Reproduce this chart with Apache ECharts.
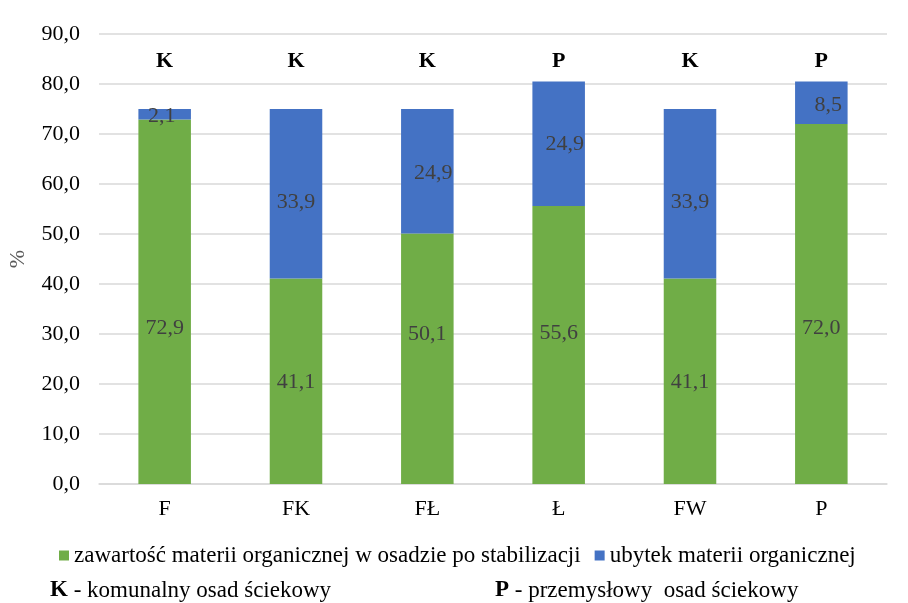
<!DOCTYPE html>
<html>
<head>
<meta charset="utf-8">
<script src="https://cdn.jsdelivr.net/npm/echarts@6/dist/echarts.min.js"></script>
<style>
  html, body { margin: 0; padding: 0; background: #fff; }
  #chart { width: 908px; height: 603px; }
</style>
</head>
<body>
<div id="chart"></div>
<script>
// Sludge samples and their organic matter balance (%)
const categories = ['F', 'FK', 'FŁ', 'Ł', 'FW', 'P'];
const sludgeType = ['K', 'K', 'K', 'P', 'K', 'P'];
const remaining = [72.9, 41.1, 50.1, 55.6, 41.1, 72.0];
const loss = [2.1, 33.9, 24.9, 24.9, 33.9, 8.5];
const yTicks = { min: 0, max: 90, interval: 10 };

// label nudges inside the bars (px)
const remainingLabelShift = [[0, 26], [0, 1], [0, -25], [0, -12], [0, 1], [0, 24]];
const lossLabelShift = [[-3, 2], [0, 8], [6, 2], [6, 0], [0, 8], [7, 2]];

const FONT = '"Liberation Serif", "Times New Roman", serif';
const SIZE = 22;
const fmt = v => v.toFixed(1).replace('.', ',');

const chart = echarts.init(document.getElementById('chart'), null, { renderer: 'canvas' });

const labelBase = {
  show: true,
  position: 'inside',
  color: '#404040',
  fontFamily: FONT,
  fontSize: SIZE,
  formatter: p => fmt(p.value)
};

chart.setOption({
  animation: false,
  textStyle: { fontFamily: FONT },
  grid: { left: 99, right: 21, top: 34, bottom: 119, containLabel: false, outerBoundsMode: 'none' },
  legend: {
    left: 54,
    top: 539,
    icon: 'rect',
    itemWidth: 10,
    itemHeight: 10,
    itemGap: 14,
    textStyle: { fontFamily: FONT, fontSize: 23, color: '#000' },
    data: ['zawartość materii organicznej w osadzie po stabilizacji', 'ubytek materii organicznej']
  },
  xAxis: [
    {
      type: 'category',
      data: categories,
      axisLine: { lineStyle: { color: '#d9d9d9', width: 1.5 } },
      axisTick: { show: false },
      axisLabel: { color: '#000', fontFamily: FONT, fontSize: SIZE, margin: 14 }
    },
    {
      type: 'category',
      position: 'top',
      data: sludgeType,
      axisLine: { show: false },
      axisTick: { show: false },
      axisLabel: { inside: true, margin: 16, color: '#000', fontFamily: FONT, fontSize: SIZE, fontWeight: 'bold' }
    }
  ],
  yAxis: {
    type: 'value',
    min: yTicks.min,
    max: yTicks.max,
    interval: yTicks.interval,
    name: '%',
    nameLocation: 'middle',
    nameGap: 70,
    nameTextStyle: { color: '#595959', fontFamily: FONT, fontSize: SIZE },
    axisLine: { show: false },
    axisTick: { show: false },
    splitLine: { lineStyle: { color: '#d9d9d9', width: 1.5 } },
    axisLabel: { color: '#000', fontFamily: FONT, fontSize: SIZE, margin: 19, formatter: v => fmt(v) }
  },
  series: [
    {
      name: 'zawartość materii organicznej w osadzie po stabilizacji',
      type: 'bar',
      stack: 'total',
      barWidth: '40%',
      itemStyle: { color: '#70ad47' },
      label: labelBase,
      data: remaining.map((v, i) => ({ value: v, label: { offset: remainingLabelShift[i] } }))
    },
    {
      name: 'ubytek materii organicznej',
      type: 'bar',
      stack: 'total',
      barWidth: '40%',
      itemStyle: { color: '#4472c4' },
      label: labelBase,
      data: loss.map((v, i) => ({ value: v, label: { offset: lossLabelShift[i] } }))
    }
  ],
  graphic: [
    {
      type: 'text',
      left: 50,
      top: 579,
      style: {
        text: '{b|K} - komunalny osad ściekowy',
        rich: { b: { fontWeight: 'bold', fontSize: 23, fontFamily: FONT, fill: '#000' } },
        font: '23px ' + FONT,
        fill: '#000'
      }
    },
    {
      type: 'text',
      left: 495,
      top: 579,
      style: {
        text: '{b|P} - przemysłowy  osad ściekowy',
        rich: { b: { fontWeight: 'bold', fontSize: 23, fontFamily: FONT, fill: '#000' } },
        font: '23px ' + FONT,
        fill: '#000'
      }
    }
  ]
});
</script>
</body>
</html>
